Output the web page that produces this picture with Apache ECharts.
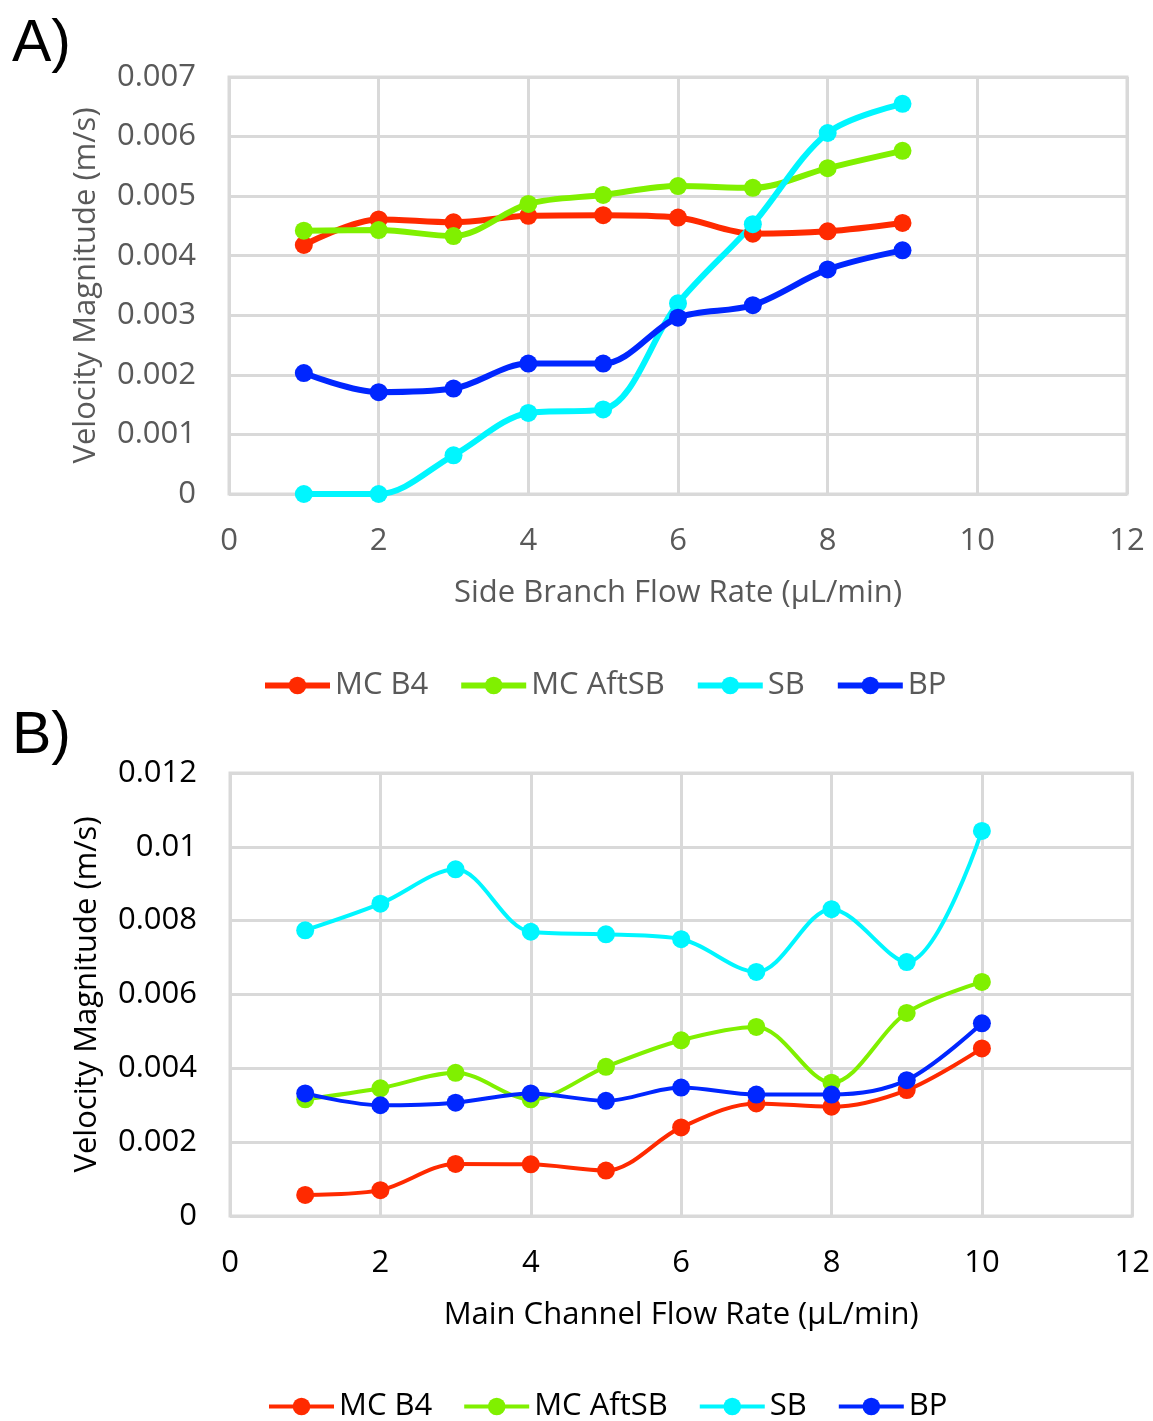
<!DOCTYPE html>
<html>
<head>
<meta charset="utf-8">
<script src="https://cdn.jsdelivr.net/npm/echarts@6/dist/echarts.min.js"></script>
<style>
  html, body { margin: 0; padding: 0; background: #ffffff; }
  #chart { width: 1153px; height: 1421px; }
</style>
</head>
<body>
<div id="chart"></div>
<script>
// Panel A: side branch flow rate sweep (µL/min) vs velocity magnitude (m/s)
const flowA = [1, 2, 3, 4, 5, 6, 7, 8, 9];
const aMcB4   = [0.00418, 0.00461, 0.00456, 0.00467, 0.00468, 0.00464, 0.00437, 0.00441, 0.00455];
const aMcAft  = [0.00442, 0.00443, 0.00433, 0.00487, 0.00502, 0.00517, 0.00514, 0.00547, 0.00576];
const aSB     = [0.00000, 0.00000, 0.00065, 0.00136, 0.00142, 0.00320, 0.00453, 0.00606, 0.00655];
const aBP     = [0.00203, 0.00171, 0.00177, 0.00219, 0.00219, 0.00296, 0.00317, 0.00377, 0.00409];

// Panel B: main channel flow rate sweep (µL/min) vs velocity magnitude (m/s)
const flowB = [1, 2, 3, 4, 5, 6, 7, 8, 9, 10];
const bMcB4   = [0.00057, 0.00070, 0.00141, 0.00140, 0.00123, 0.00240, 0.00305, 0.00296, 0.00341, 0.00454];
const bMcAft  = [0.00316, 0.00346, 0.00388, 0.00316, 0.00404, 0.00476, 0.00512, 0.00361, 0.00550, 0.00634];
const bSB     = [0.00774, 0.00846, 0.00939, 0.00770, 0.00763, 0.00750, 0.00661, 0.00831, 0.00688, 0.01043];
const bBP     = [0.00332, 0.00300, 0.00307, 0.00332, 0.00312, 0.00348, 0.00329, 0.00329, 0.00368, 0.00522];

const seriesNames = ['MC B4', 'MC AftSB', 'SB', 'BP'];
const seriesColors = ['#ff2a00', '#80f000', '#00f6ff', '#0026ff'];
const panelLabels = ['A)', 'B)'];
const xTitles = ['Side Branch Flow Rate (µL/min)', 'Main Channel Flow Rate (µL/min)'];
const yTitle = 'Velocity Magnitude (m/s)';

const FONT = '"Open Sans", "DejaVu Sans", sans-serif';
const FS = 31;
const GRID_COLOR = '#d9d9d9';

function zip(xs, ys) { return xs.map((x, i) => [x, ys[i]]); }

function makeSeries(gridIdx, xs, sets, width) {
  return sets.map((ys, i) => ({
    name: seriesNames[i],
    type: 'line',
    xAxisIndex: gridIdx,
    yAxisIndex: gridIdx,
    data: zip(xs, ys),
    smooth: 0.33,
    symbol: 'circle',
    symbolSize: 18,
    showSymbol: true,
    lineStyle: { color: seriesColors[i], width: width },
    itemStyle: { color: seriesColors[i] },
    emphasis: { disabled: true },
    animation: false
  }));
}

function xAxisFor(gridIdx, textColor) {
  return {
    type: 'value', gridIndex: gridIdx, min: 0, max: 12, interval: 2,
    axisLine: { show: false }, axisTick: { show: false },
    splitLine: { show: true, lineStyle: { color: GRID_COLOR, width: 3 } },
    axisLabel: { color: textColor, fontSize: FS, fontFamily: FONT, margin: 32 },
    name: xTitles[gridIdx], nameLocation: 'middle', nameGap: 84,
    nameTextStyle: { color: textColor, fontSize: FS, fontFamily: FONT }
  };
}

function yAxisFor(gridIdx, max, interval, textColor) {
  return {
    type: 'value', gridIndex: gridIdx, min: 0, max: max, interval: interval,
    axisLine: { show: false }, axisTick: { show: false },
    splitLine: { show: true, lineStyle: { color: GRID_COLOR, width: 3 } },
    axisLabel: { color: textColor, fontSize: FS, fontFamily: FONT, margin: 33 },
    name: yTitle, nameLocation: 'middle', nameGap: 127,
    nameTextStyle: { color: textColor, fontSize: FS, fontFamily: FONT }
  };
}

function legendFor(left, top, textColor, lineWidth) {
  return {
    data: seriesNames, left: left, top: top, orient: 'horizontal',
    itemWidth: 65, itemHeight: 22, itemGap: 30,
    selectedMode: false,
    lineStyle: { width: lineWidth },
    textStyle: { color: textColor, fontSize: FS, fontFamily: FONT, padding: [0, 0, 0, 0] }
  };
}

const chart = echarts.init(document.getElementById('chart'), null, { renderer: 'canvas' });
chart.setOption({
  backgroundColor: '#ffffff',
  animation: false,
  title: [
    { text: panelLabels[0], left: 7, top: 10, textStyle: { fontSize: 59, fontWeight: 'normal', color: '#000', fontFamily: '"Liberation Sans", Arial, sans-serif' } },
    { text: panelLabels[1], left: 7, top: 702, textStyle: { fontSize: 59, fontWeight: 'normal', color: '#000', fontFamily: '"Liberation Sans", Arial, sans-serif' } }
  ],
  grid: [
    { left: 229, top: 77, width: 898, height: 417, show: true, borderColor: GRID_COLOR, borderWidth: 3, containLabel: false },
    { left: 230, top: 773, width: 904, height: 443, show: true, borderColor: GRID_COLOR, borderWidth: 3, containLabel: false }
  ],
  xAxis: [xAxisFor(0, '#595959'), xAxisFor(1, '#000000')],
  yAxis: [yAxisFor(0, 0.007, 0.001, '#595959'), yAxisFor(1, 0.012, 0.002, '#000000')],
  legend: [legendFor(257, 665, '#595959', 6), legendFor(262, 1386, '#000000', 4)],
  series: [].concat(
    makeSeries(0, flowA, [aMcB4, aMcAft, aSB, aBP], 6),
    makeSeries(1, flowB, [bMcB4, bMcAft, bSB, bBP], 4)
  )
});
</script>
</body>
</html>
